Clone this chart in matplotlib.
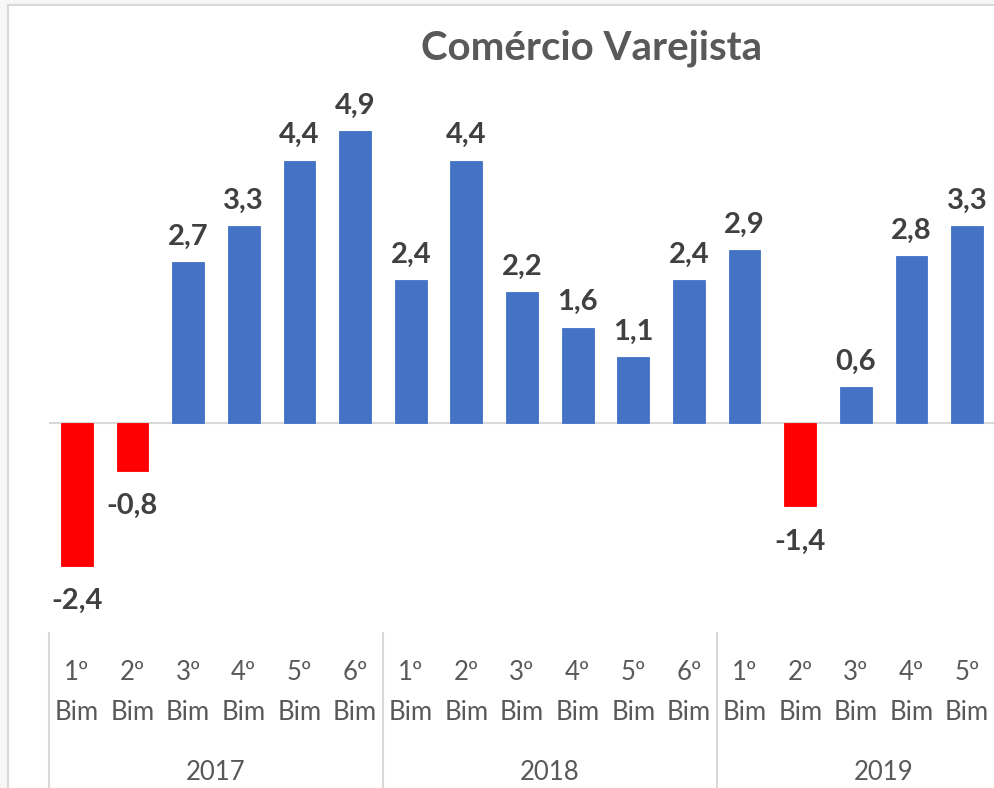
import matplotlib.pyplot as plt
from matplotlib.patches import Rectangle
import matplotlib.transforms as mtransforms

# dados
bimestres = ['1º', '2º', '3º', '4º', '5º', '6º',
             '1º', '2º', '3º', '4º', '5º', '6º',
             '1º', '2º', '3º', '4º', '5º']
anos = ['2017', '2018', '2019']
valores = [-2.4, -0.8, 2.7, 3.3, 4.4, 4.9,
           2.4, 4.4, 2.2, 1.6, 1.1, 2.4,
           2.9, -1.4, 0.6, 2.8, 3.3]
bim_por_ano = 6

W, H = 994, 788
fig = plt.figure(figsize=(W / 100, H / 100), dpi=100)
fig.patch.set_facecolor('#f7f7f7')
plt.rcParams['font.family'] = ['Lato', 'DejaVu Sans']

# area do grafico (recortada a direita e embaixo)
fig.patches.append(Rectangle((8 / W, -0.1), 1.2, (H - 5) / H + 0.1,
                             transform=fig.transFigure, facecolor='white',
                             edgecolor='#d9d9d9', lw=1.5, zorder=-5))

# eixo em pixels
x0, x1 = 49, 995
y_top, y_bot = 40, 633
ax = fig.add_axes([x0 / W, (H - y_bot) / H, (x1 - x0) / W, (y_bot - y_top) / H])
ax.set_facecolor('none')
ax.set_zorder(2)
ax.set_xlim(-0.5, len(valores) - 0.5)
ax.set_ylim(-3.523, 6.426)
for s in ax.spines.values():
    s.set_visible(False)
ax.set_xticks([])
ax.set_yticks([])

x = list(range(len(valores)))
cores = ['#ff0000' if v < 0 else '#4472c4' for v in valores]
ax.bar(x, valores, width=0.57, color=cores, edgecolor=cores, lw=0.6, zorder=2)
ax.axhline(0, color='#d9d9d9', lw=1.5, zorder=1)

for xi, v in zip(x, valores):
    txt = f'{v:.1f}'.replace('.', ',')
    if v >= 0:
        ax.annotate(txt, (xi, v), xytext=(0, 9), textcoords='offset points',
                    ha='center', va='bottom', fontsize=21, fontweight='bold',
                    color='#404040')
    else:
        ax.annotate(txt, (xi, v), xytext=(0, -16), textcoords='offset points',
                    ha='center', va='top', fontsize=21, fontweight='bold',
                    color='#404040')

# rotulos das categorias
trans = mtransforms.blended_transform_factory(ax.transData, fig.transFigure)
for xi, b in zip(x, bimestres):
    ax.text(xi, (H - 673) / H, b, transform=trans, ha='center', va='center',
            fontsize=18.5, color='#595959')
    ax.text(xi, (H - 712) / H, 'Bim', transform=trans, ha='center', va='center',
            fontsize=18.5, color='#595959')

for i, ano in enumerate(anos):
    ini = i * bim_por_ano - 0.5
    ax.text(ini + bim_por_ano / 2, (H - 772) / H, ano, transform=trans,
            ha='center', va='center', fontsize=18.5, color='#595959')
    ax.plot([ini, ini], [(H - 633) / H, 0], transform=trans, color='#d9d9d9',
            lw=1.5, clip_on=False)

fig.text(592 / W, (H - 48) / H, 'Comércio Varejista', ha='center', va='center',
         fontsize=29, fontweight='bold', color='#595959')

fig.savefig('out.png', dpi=100, facecolor=fig.get_facecolor())
